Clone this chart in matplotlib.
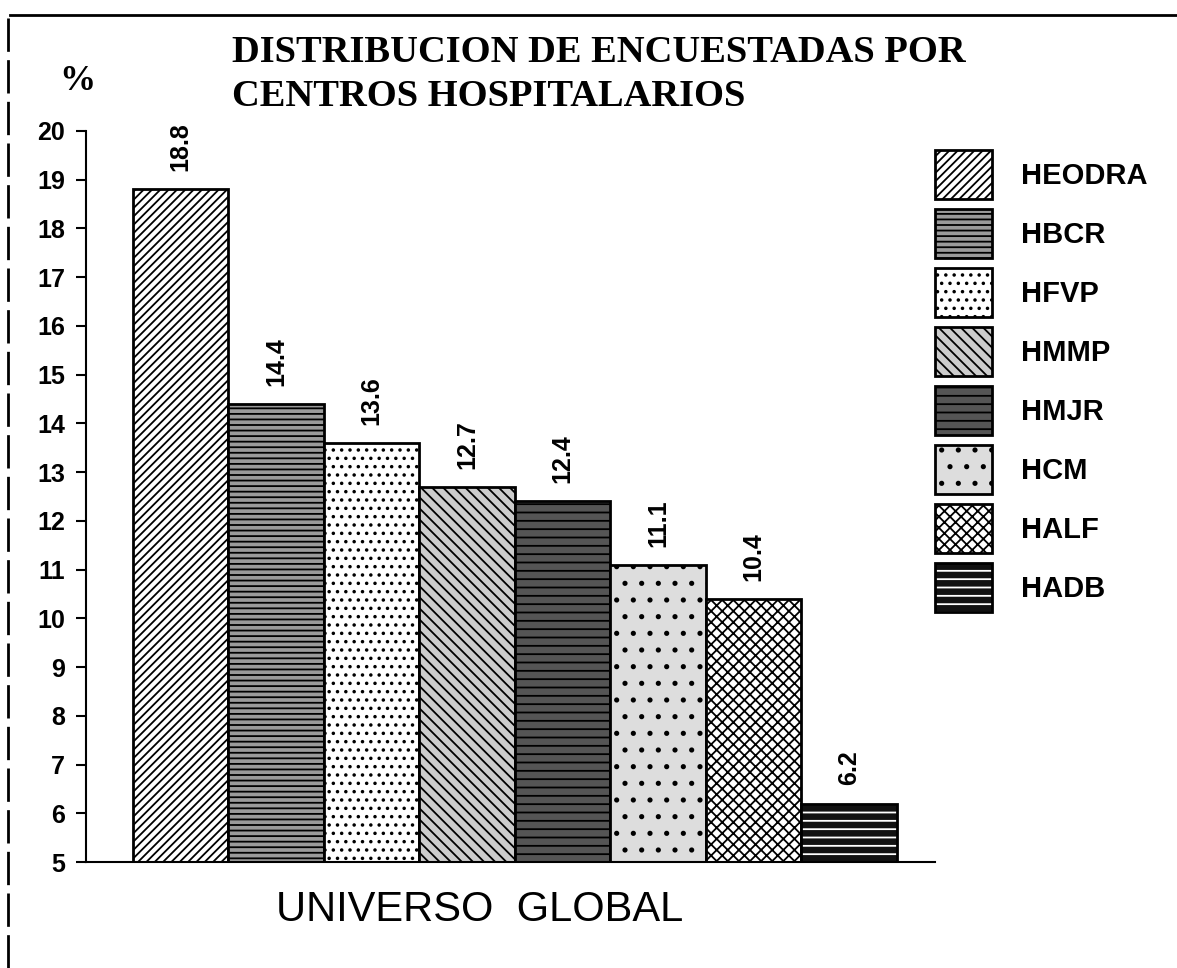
#!/usr/bin/env python
# -*- coding: utf-8 -*-
"""
Distribucion de encuestadas por centros hospitalarios (universo global)
"""
import matplotlib
matplotlib.use('Agg')
import matplotlib.pyplot as plt
from matplotlib.lines import Line2D
from matplotlib.legend_handler import HandlerTuple

# =============================================================================
# Data
# =============================================================================
centros = ['HEODRA', 'HBCR', 'HFVP', 'HMMP', 'HMJR', 'HCM', 'HALF', 'HADB']
porcentajes = [18.8, 14.4, 13.6, 12.7, 12.4, 11.1, 10.4, 6.2]
etiquetas = ['18.8', '14.4', '13.6', '12.7', '12.4', '11.1', '10.4', '6.2']
y_ticks = list(range(5, 21))

# fill styles (face colour, hatch, hatch colour)
estilos = [('white', '////', 'black'),
           ('#9a9a9a', '---', 'black'),
           ('white', '..', 'black'),
           ('#cccccc', '\\\\\\', 'black'),
           ('#555555', '--', 'black'),
           ('#dddddd', '.', 'black'),
           ('white', 'xxx', 'black'),
           ('#111111', '--', 'white')]

SANS = 'Liberation Sans'
SERIF = 'Liberation Serif'

# =============================================================================
# Plot
# =============================================================================
plt.rcParams['hatch.linewidth'] = 1.3
fig = plt.figure(figsize=(11.77, 9.68), dpi=100)
ax = fig.add_axes([86 / 1177, 106 / 968, 849 / 1177, 731 / 968])

handles = []
for i, (name, val) in enumerate(zip(centros, porcentajes)):
    face, hatch, hcol = estilos[i]
    b1 = ax.bar(i, val, width=1.0, color=face, hatch=hatch, edgecolor=hcol,
                linewidth=0)
    b2 = ax.bar(i, val, width=1.0, fill=False, edgecolor='black',
                linewidth=2)
    handles.append((b1[0], b2[0]))
    ax.annotate(etiquetas[i], xy=(i, val), xytext=(0, 13),
                textcoords='offset points', rotation=90, ha='center',
                va='bottom', fontsize=18, fontweight='bold', family=SANS)

ax.set_xlim(-0.99, 7.9)
ax.set_ylim(5, 20)
ax.set_yticks(y_ticks)
ax.set_yticklabels([str(t) for t in y_ticks], fontsize=18, fontweight='bold',
                   family=SANS)
ax.tick_params(axis='y', length=7, width=1.5, pad=8)
ax.set_xticks([])
for side in ['top', 'right']:
    ax.spines[side].set_visible(False)
ax.spines['left'].set_linewidth(1.5)
ax.spines['bottom'].set_linewidth(1.5)

fig.text(480 / 1177, 1 - 910 / 968, 'UNIVERSO  GLOBAL', ha='center',
         va='center', fontsize=30, family=SANS)

# title
fig.text(232 / 1177, 1 - 52 / 968, 'DISTRIBUCION DE ENCUESTADAS POR',
         ha='left', va='center', fontsize=27.7, fontweight='bold',
         family=SERIF)
fig.text(232 / 1177, 1 - 97 / 968, 'CENTROS HOSPITALARIOS',
         ha='left', va='center', fontsize=27.7, fontweight='bold',
         family=SERIF)
fig.text(77 / 1177, 1 - 82 / 968, '%', ha='center', va='center',
         fontsize=26, fontweight='bold', family=SERIF)

# legend
fig.legend(handles, centros, handler_map={tuple: HandlerTuple(ndivide=1)},
           loc='upper left', bbox_to_anchor=(935 / 1177, 1 - 150 / 968),
           frameon=False, borderpad=0, borderaxespad=0,
           prop={'family': SANS, 'weight': 'bold', 'size': 21},
           handlelength=1.95, handleheight=2.2, labelspacing=0.35,
           handletextpad=1.0)

# frame of the scanned page
fig.add_artist(Line2D([10 / 1177, 1.0], [1 - 15 / 968, 1 - 15 / 968],
                      transform=fig.transFigure, color='black', lw=2))
fig.add_artist(Line2D([8 / 1177, 8 / 1177], [0.0, 1 - 15 / 968],
                      transform=fig.transFigure, color='black', lw=2,
                      linestyle=(0, (12, 3))))

fig.savefig('out.png', dpi=100)
plt.close(fig)
